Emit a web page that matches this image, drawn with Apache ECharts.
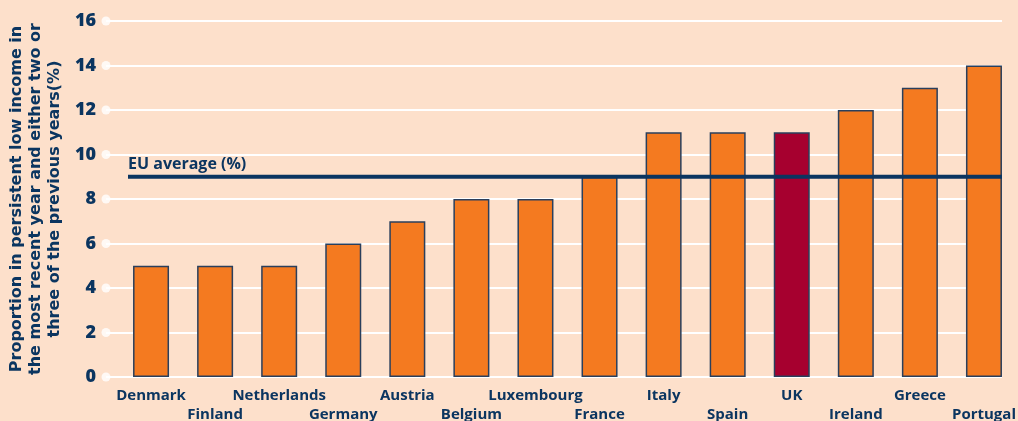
<!DOCTYPE html>
<html><head><meta charset="utf-8">
<script src="https://cdn.jsdelivr.net/npm/echarts@6/dist/echarts.min.js"></script>
<style>html,body{margin:0;padding:0;background:#FDE0CB;}#c{width:1018px;height:421px;}</style>
</head><body><div id="c"></div>
<script>
const categories = ['Denmark','Finland','Netherlands','Germany','Austria','Belgium','Luxembourg','France','Italy','Spain','UK','Ireland','Greece','Portugal'];
const values = [5,5,5,6,7,8,8,9,11,11,11,12,13,14];
const highlight = 'UK';
const euAverage = 9;
const yTicks = [0,2,4,6,8,10,12,14,16];
const yTitle = 'Proportion in persistent low income in\nthe most recent year and either two or\nthree of the previous years(%)';

const NAVY = '#0B3560', ORANGE = '#F47A20', RED = '#A6002F';
const chart = echarts.init(document.getElementById('c'));
const FONT = '"Open Sans", sans-serif';
chart.setOption({
  backgroundColor: '#FDE0CB',
  animation: false,
  grid: [
    {left: 106, right: 16, top: 21, bottom: 44, outerBoundsMode: 'none', containLabel: false},
    {left: 119, right: 2, top: 21, bottom: 44, outerBoundsMode: 'none', containLabel: false},
    {left: 128, right: 16, top: 21, bottom: 44, outerBoundsMode: 'none', containLabel: false}
  ],
  xAxis: [
    {gridIndex: 0, type: 'value', min: 0, max: 1, show: false},
    {gridIndex: 1, type: 'category', data: categories, axisLine: {show: false}, axisTick: {show: false},
     axisLabel: {interval: 0, margin: 9, color: NAVY, fontWeight: 'bold', fontSize: 15, fontFamily: FONT, lineHeight: 19,
       formatter: (v, i) => (i % 2 ? '\n' + v : v)}},
    {gridIndex: 2, type: 'value', min: 0, max: 1, show: false}
  ],
  yAxis: [
    {gridIndex: 0, type: 'value', min: 0, max: 16, interval: 2,
     axisLine: {show: false}, axisTick: {show: false},
     splitLine: {lineStyle: {color: '#FFFFFF', width: 2}},
     axisLabel: {margin: 10, color: NAVY, fontWeight: 800, fontSize: 18, fontFamily: FONT},
     name: yTitle, nameLocation: 'middle', nameRotate: 90, nameGap: 40,
     nameTextStyle: {color: NAVY, fontWeight: 600, fontSize: 16, fontFamily: '"DejaVu Sans", sans-serif', lineHeight: 19, align: 'center'}},
    {gridIndex: 1, type: 'value', min: 0, max: 16, show: false},
    {gridIndex: 2, type: 'value', min: 0, max: 16, show: false}
  ],
  series: [
    {type: 'scatter', xAxisIndex: 0, yAxisIndex: 0, data: yTicks.map(t => [0, t]), symbolSize: 9,
     itemStyle: {color: '#FFFFFF'}, clip: false, z: 3, silent: true},
    {type: 'bar', xAxisIndex: 1, yAxisIndex: 1, barWidth: 36,
     data: categories.map((c, i) => ({value: values[i], itemStyle: {color: c === highlight ? RED : ORANGE}})),
     itemStyle: {borderColor: '#2A3F5C', borderWidth: 1.5}, z: 4},
    {type: 'line', xAxisIndex: 2, yAxisIndex: 2, data: [[0, euAverage], [1, euAverage]], symbol: 'none',
     lineStyle: {color: NAVY, width: 4}, z: 6,
     markPoint: {symbol: 'rect', symbolSize: 1, itemStyle: {color: 'transparent'},
       data: [{coord: [0, euAverage], label: {show: true, formatter: 'EU average (%)', position: 'top', distance: 4, align: 'left',
         color: NAVY, fontWeight: 'bold', fontSize: 16, fontFamily: FONT}}]}}
  ]
});
</script></body></html>
